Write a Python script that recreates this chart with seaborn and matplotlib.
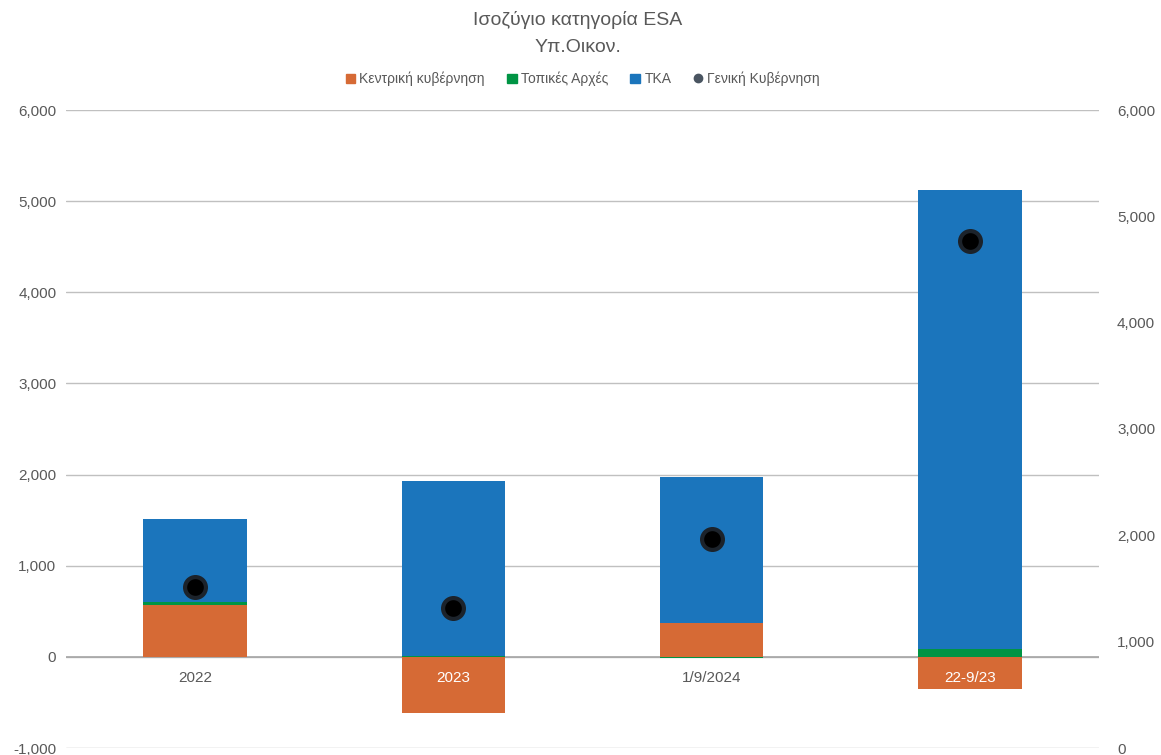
import numpy as np
import matplotlib.pyplot as plt
from matplotlib.lines import Line2D
from matplotlib.patches import Patch
from matplotlib.ticker import FuncFormatter, MultipleLocator
import seaborn as sns

# data
periods = ['2022', '2023', '1/9/2024', '22-9/23']
central = [571, -618, 373, -355]
local = [30, 10, -10, 85]
tka = [915, 1922, 1603, 5041]
general = [1516, 1314, 1966, 4771]

names = ['Κεντρική κυβέρνηση', 'Τοπικές Αρχές', 'ΤΚΑ']
colors = ['#D66A35', '#009444', '#1B75BC']
dot_name = 'Γενική Κυβέρνηση'
grey = '#595959'

sns.set_style('white')
plt.rcParams['font.family'] = ['Liberation Sans', 'DejaVu Sans']

fig = plt.figure(figsize=(11.61, 7.55), dpi=100)
ax = fig.add_axes([66 / 1161, 7 / 755, 1033 / 1161, 638 / 755])

# stacked bars, positives and negatives stacked separately
pos = np.zeros(len(periods))
neg = np.zeros(len(periods))
for vals, col in zip([central, local, tka], colors):
    v = np.array(vals, dtype=float)
    bottom = np.where(v >= 0, pos, neg)
    sns.barplot(x=periods, y=v, bottom=bottom, color=col, width=0.4, saturation=1,
                errorbar=None, ax=ax, zorder=2, linewidth=0, edgecolor='none')
    pos += np.clip(v, 0, None)
    neg += np.clip(v, None, 0)

ax.set_ylim(-1000, 6000)
ax.yaxis.set_major_locator(MultipleLocator(1000))
ax.yaxis.set_major_formatter(FuncFormatter(lambda v, _: f'{v:,.0f}'))
ax.yaxis.grid(True, color='#C0C0C0', lw=1, zorder=0)
ax.set_axisbelow(True)
ax.axhline(0, color='#A6A6A6', lw=1.2, zorder=1)
ax.tick_params(axis='y', length=0, pad=7, labelsize=11, labelcolor=grey)
ax.tick_params(axis='x', length=0, labelbottom=False)
ax.set_xlabel('')
for s in ax.spines.values():
    s.set_visible(False)

# category labels sit just under the zero line
for i, (p, c) in enumerate(zip(periods, central)):
    ax.annotate(p, xy=(i, 0), xytext=(0, -10), textcoords='offset points',
                ha='center', va='top', fontsize=11,
                color='white' if c < 0 else grey, zorder=5)

# general government on the secondary axis
ax2 = ax.twinx()
sns.pointplot(x=periods, y=general, ax=ax2, color='black', linestyle='none',
              markers='o', markersize=15, markeredgecolor='#1C232B',
              markeredgewidth=3, errorbar=None)
ax2.set_ylim(0, 6000)
ax2.yaxis.set_major_locator(MultipleLocator(1000))
ax2.yaxis.set_major_formatter(FuncFormatter(lambda v, _: f'{v:,.0f}'))
ax2.tick_params(axis='y', length=0, pad=13, labelsize=11, labelcolor=grey)
ax2.set_ylabel('')
ax2.grid(False)
for s in ax2.spines.values():
    s.set_visible(False)
ax.set_xlim(-0.5, len(periods) - 0.5)

fig.text(0.4974, 1 - 20 / 755, 'Ισοζύγιο κατηγορία ESA', ha='center', va='center',
         fontsize=14, color=grey)
fig.text(0.4974, 1 - 48 / 755, 'Υπ.Οικον.', ha='center', va='center',
         fontsize=14, color=grey)

handles = [Patch(color=c, label=n) for c, n in zip(colors, names)]
handles.append(Line2D([], [], marker='o', color='#4A5561', linestyle='none',
                      markersize=6, label=dot_name))
fig.legend(handles=handles, loc='center', bbox_to_anchor=(0.502, 1 - 79 / 755),
           ncol=4, frameon=False, fontsize=10, handlelength=0.7, handleheight=0.7,
           handletextpad=0.3, columnspacing=1.6, labelcolor=grey)

fig.savefig('out.png', dpi=100)
